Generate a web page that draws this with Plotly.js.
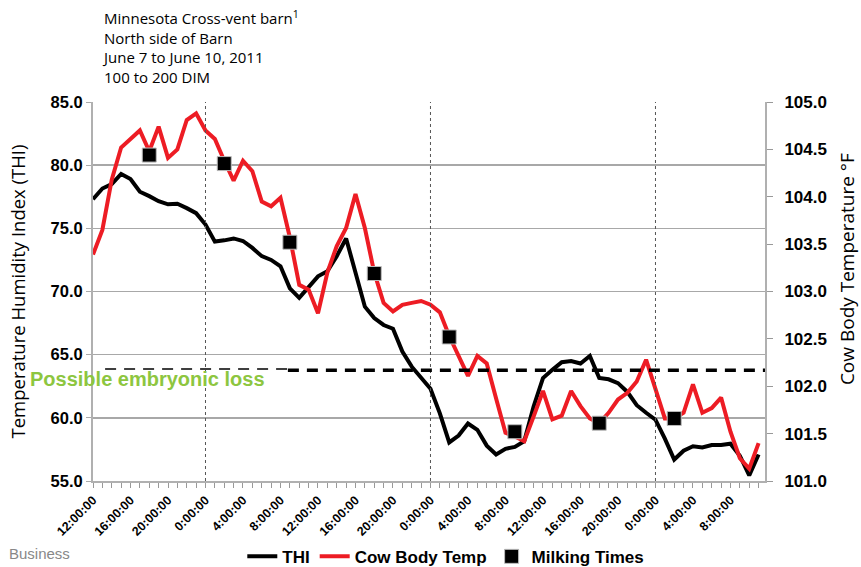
<!DOCTYPE html>
<html>
<head>
<meta charset="utf-8">
<script src="https://cdn.plot.ly/plotly-3.0.1.min.js"></script>
<style>html,body{margin:0;padding:0;background:#fff;}#chart{width:861px;height:567px;}</style>
</head>
<body>
<div id="chart"></div>
<script>
// Hourly readings starting 2011-06-07 12:00
const startTime = '2011-06-07T12:00:00';
const thiValues = [
  77.3, 78.15, 78.5, 79.3, 78.9, 77.9, 77.55, 77.15, 76.9, 76.95, 76.6, 76.2,
  75.3, 73.95, 74.05, 74.2, 74.0, 73.45, 72.8, 72.5, 72.0, 70.25, 69.5, 70.3,
  71.2, 71.6, 72.8, 74.2, 71.6, 68.8, 67.9, 67.35, 67.05, 65.25, 64.05, 63.15,
  62.3, 60.35, 58.05, 58.6, 59.55, 59.05, 57.8, 57.1, 57.55, 57.7, 58.15, 60.9,
  63.15, 63.8, 64.4, 64.5, 64.3, 64.9, 63.15, 63.05, 62.75, 62.05, 61.0, 60.4,
  59.85, 58.35, 56.7, 57.4, 57.75, 57.65, 57.85, 57.85, 57.95, 57.0, 55.45, 57.1
];
const bodyTempValues = [
  103.39, 103.65, 104.18, 104.52, 104.61, 104.70, 104.48, 104.74, 104.41, 104.50, 104.81, 104.88,
  104.70, 104.61, 104.38, 104.17, 104.38, 104.27, 103.95, 103.90, 103.99, 103.57, 103.07, 103.02,
  102.77, 103.20, 103.48, 103.67, 104.03, 103.67, 103.20, 102.88, 102.79, 102.86, 102.88, 102.90,
  102.86, 102.78, 102.53, 102.32, 102.11, 102.32, 102.24, 101.87, 101.51, 101.47, 101.42, 101.68,
  101.95, 101.65, 101.69, 101.95, 101.79, 101.66, 101.61, 101.72, 101.86, 101.93, 102.05, 102.28,
  101.96, 101.66, 101.66, 101.72, 102.02, 101.72, 101.77, 101.88, 101.52, 101.24, 101.13, 101.40
];
const milkingTimes = [
  '2011-06-07 18:00', '2011-06-08 02:00', '2011-06-08 09:00', '2011-06-08 18:00',
  '2011-06-09 02:00', '2011-06-09 09:00', '2011-06-09 18:00', '2011-06-10 02:00'
];
const milkingTemps = [104.44, 104.35, 103.52, 103.19, 102.52, 101.52, 101.61, 101.66];
const midnights = ['2011-06-08 00:00', '2011-06-09 00:00', '2011-06-10 00:00'];
const embryonicLossTemp = 102.17;
const seriesNames = ['THI', 'Cow Body Temp', 'Milking Times'];
const headerLines = ['Minnesota Cross-vent barn<sup>1</sup>', 'North side of Barn', 'June 7 to June 10, 2011', '100 to 200 DIM'];

function pad(n){return (n<10?'0':'')+n;}
const t0 = new Date(startTime + 'Z').getTime();
const times = thiValues.map((_, i) => {
  const d = new Date(t0 + i*3600000);
  return d.getUTCFullYear()+'-'+pad(d.getUTCMonth()+1)+'-'+pad(d.getUTCDate())+' '+pad(d.getUTCHours())+':00';
});

const boldFont = {family: 'Liberation Sans, Arial, sans-serif', weight: 'bold', color: '#000'};

const traces = [
  {x: times, y: thiValues, name: seriesNames[0], type: 'scatter', mode: 'lines',
   line: {color: '#000000', width: 4}, yaxis: 'y'},
  {x: times, y: bodyTempValues, name: seriesNames[1], type: 'scatter', mode: 'lines',
   line: {color: '#ED1C24', width: 4}, yaxis: 'y2'},
  {x: milkingTimes, y: milkingTemps, name: seriesNames[2], type: 'scatter', mode: 'markers',
   marker: {symbol: 'square', size: 14, color: '#000000', line: {color: '#bbbbbb', width: 1}}, yaxis: 'y2'}
];

const shapes = midnights.map(m => ({
  type: 'line', xref: 'x', yref: 'paper', x0: m, x1: m, y0: 0, y1: 1,
  line: {color: '#555555', width: 1, dash: 'dot'}
}));
shapes.push({type: 'line', xref: 'paper', yref: 'y2', x0: 0.018, x1: 0.29, y0: embryonicLossTemp + 0.012, y1: embryonicLossTemp + 0.012,
  line: {color: '#000', width: 1.3, dash: '11px,8px'}});
shapes.push({type: 'line', xref: 'paper', yref: 'y2', x0: 0.29, x1: 1, y0: embryonicLossTemp, y1: embryonicLossTemp,
  line: {color: '#000', width: 3.5, dash: '11px,8px'}});

const layout = {
  width: 861, height: 567,
  margin: {l: 93, r: 96, t: 102, b: 86, autoexpand: false},
  paper_bgcolor: '#fff', plot_bgcolor: '#fff',
  showlegend: true,
  legend: {orientation: 'h', x: 0.525, xanchor: 'center', y: -0.2, yanchor: 'middle',
    font: Object.assign({size: 17}, boldFont), itemwidth: 30, tracegroupgap: 0},
  xaxis: {
    type: 'date', automargin: false,
    range: ['2011-06-07 12:00', '2011-06-10 11:41'],
    tick0: '2011-06-07 12:00', dtick: 4*3600000,
    tickformat: '%-H:%M:%S', tickangle: -45,
    tickfont: Object.assign({size: 12.5}, boldFont),
    ticks: 'outside', ticklen: 5, tickcolor: '#999', tickwidth: 1,
    minor: {dtick: 3600000, tick0: '2011-06-07 12:00', ticks: 'outside', ticklen: 5, tickcolor: '#999', tickwidth: 1, showgrid: false},
    showgrid: false, zeroline: false,
    showline: true, linecolor: '#b0b0b0', linewidth: 2
  },
  yaxis: {
    range: [55, 85], dtick: 5, tickformat: '.1f', automargin: false,
    tickfont: Object.assign({size: 16.5}, boldFont),
    ticks: 'outside', ticklen: 5, tickcolor: '#aaa',
    showgrid: true, gridcolor: '#a8a8a8', gridwidth: 1.5, zeroline: false,
    showline: true, linecolor: '#b0b0b0', linewidth: 2,
    title: {text: 'Temperature Humidity Index (THI)', font: {family: 'Open Sans, sans-serif', size: 18.5, color: '#000'}, standoff: 20}
  },
  yaxis2: {
    range: [101, 105], dtick: 0.5, tickformat: '.1f', overlaying: 'y', side: 'right', automargin: false,
    tickfont: Object.assign({size: 17}, boldFont),
    ticks: 'outside', ticklen: 6, tickcolor: '#999', ticklabelstandoff: 8,
    showgrid: false, zeroline: false,
    showline: true, linecolor: '#b0b0b0', linewidth: 2
  },
  shapes: shapes,
  annotations: [
    {xref: 'paper', yref: 'paper', x: 1.122, y: 0.559, xanchor: 'center', yanchor: 'middle', textangle: -90,
     text: 'Cow Body Temperature °F', showarrow: false,
     font: {family: 'Open Sans, sans-serif', size: 19, color: '#000'}},
    {xref: 'paper', yref: 'paper', x: -0.0967, y: 0.269, xanchor: 'left', yanchor: 'middle',
     text: 'Possible embryonic loss', showarrow: false,
     font: {family: 'Liberation Sans, Arial, sans-serif', weight: 'bold', size: 20, color: '#8DC63F'}},
    {xref: 'paper', yref: 'paper', x: -0.128, y: -0.19, xanchor: 'left', yanchor: 'middle',
     text: 'Business', showarrow: false,
     font: {family: 'Liberation Sans, Arial, sans-serif', size: 15, color: '#888'}},
    {xref: 'paper', yref: 'paper', x: 0.01, y: 1.255, xanchor: 'left', yanchor: 'top', align: 'left',
     text: headerLines.join('<br>'), showarrow: false,
     font: {family: 'Open Sans, sans-serif', size: 15, color: '#000'}}
  ]
};

Plotly.newPlot('chart', traces, layout, {displayModeBar: false, staticPlot: true});
</script>
</body>
</html>
